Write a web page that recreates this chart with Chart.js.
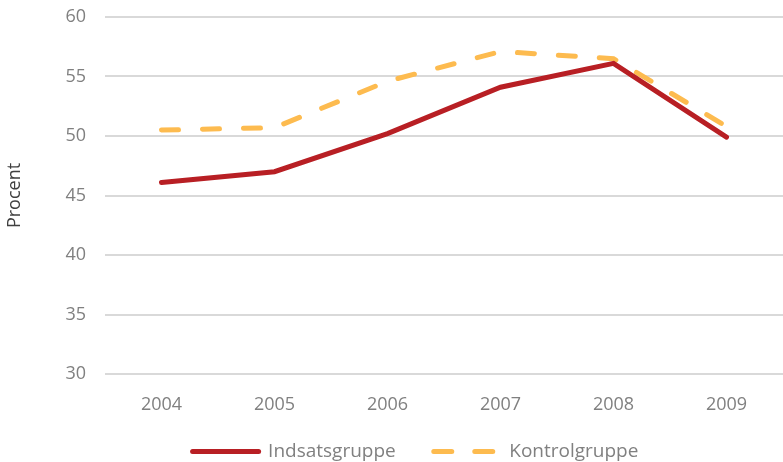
<!DOCTYPE html>
<html>
<head>
<meta charset="utf-8">
<script src="https://cdn.jsdelivr.net/npm/chart.js@4"></script>
<style>
  html, body { margin: 0; padding: 0; background: #fff; }
  #wrap { width: 783px; height: 462px; }
</style>
</head>
<body>
<div id="wrap"><canvas id="chart"></canvas></div>
<script>
const years = ['2004', '2005', '2006', '2007', '2008', '2009'];
const indsats = [46.1, 47.0, 50.2, 54.1, 56.1, 49.9];
const kontrol = [50.5, 50.7, 54.6, 57.1, 56.5, 50.8];
const yTicks = [30, 35, 40, 45, 50, 55, 60];

Chart.defaults.font.family = '"Open Sans", "DejaVu Sans", sans-serif';
Chart.defaults.font.size = 18;
Chart.defaults.color = '#808080';

const legendDash = [[], [18, 23]];

// legend in the original sits a bit right of centre and close under the year labels
const shiftLegend = {
    id: 'shiftLegend',
    afterLayout(chart) {
        chart.legend.left += 44;
        chart.legend.top -= 12;
    }
};

const ctx = document.getElementById('chart').getContext('2d');
const chart = new Chart(ctx, {
    type: 'line',
    data: {
        labels: years,
        datasets: [{
            label: 'Indsatsgruppe',
            data: indsats,
            borderColor: '#b81f24',
            backgroundColor: '#b81f24',
            borderWidth: 5,
            borderCapStyle: 'round',
            pointRadius: 0,
            tension: 0,
            fill: false
        }, {
            label: 'Kontrolgruppe',
            data: kontrol,
            borderColor: '#fdbb4f',
            backgroundColor: '#fdbb4f',
            borderWidth: 5,
            borderDash: [17, 24],
            borderCapStyle: 'round',
            pointRadius: 0,
            tension: 0,
            fill: false
        }]
    },
    options: {
        responsive: true,
        maintainAspectRatio: false,
        animation: false,
        layout: { padding: { left: 4, right: 0, top: 0, bottom: -21 } },
        scales: {
            x: {
                offset: true,
                grid: { display: false, drawTicks: false },
                border: { display: false },
                ticks: { padding: 20, color: '#808080' },
                afterFit: (scale) => { scale.height = 42; }
            },
            y: {
                min: 30,
                max: 60,
                afterBuildTicks: (axis) => { axis.ticks = yTicks.map(v => ({ value: v })); },
                grid: { color: '#d9d9d9', lineWidth: 2, drawTicks: false },
                border: { display: false },
                ticks: { padding: 19, color: '#808080' },
                title: {
                    display: true,
                    text: 'Procent',
                    color: '#404040',
                    font: { size: 18 },
                    padding: { top: 0, bottom: 20 }
                },
                afterFit: (scale) => {
                    scale.width = 101;
                    scale.paddingTop = 17;
                }
            }
        },
        plugins: {
            legend: {
                position: 'bottom',
                labels: {
                    usePointStyle: true,
                    pointStyle: 'line',
                    pointStyleWidth: 66,
                    boxHeight: 10,
                    padding: 38,
                    color: '#808080',
                    font: { size: 19 },
                    generateLabels: (chart) => {
                        const items = Chart.defaults.plugins.legend.labels.generateLabels(chart);
                        items.forEach((item, i) => {
                            item.lineDash = legendDash[i];
                            item.lineCap = 'round';
                            item.lineWidth = 5;
                        });
                        return items;
                    }
                }
            },
            tooltip: { enabled: false }
        }
    },
    plugins: [shiftLegend]
});
</script>
</body>
</html>
